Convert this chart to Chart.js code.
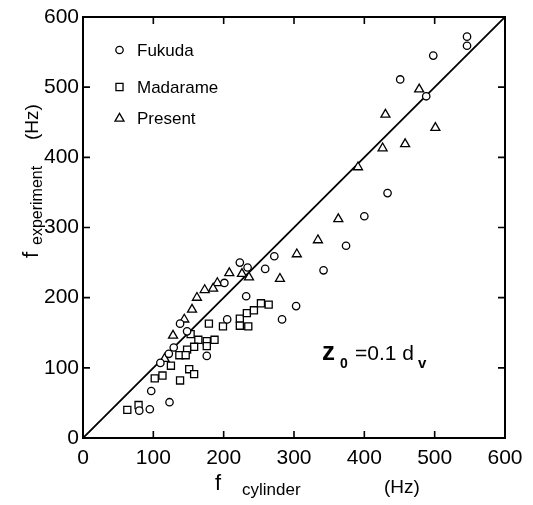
<!DOCTYPE html>
<html><head><meta charset="utf-8">
<script src="https://cdn.jsdelivr.net/npm/chart.js@4/dist/chart.umd.min.js"></script>
<style>html,body{margin:0;padding:0;background:#fff;} #wrap{width:533px;height:505px;}</style>
</head><body><div id="wrap"><canvas id="c" width="533" height="505"></canvas></div>
<script>
// ---- data ----
const fukudaX = [546,546,498,451,488,433,400,374,342,303,223,234,259,272,201,232,205,283,138,148,129,122,110,176,97,123,80,95];
const fukudaY = [572,559,545,511,487,349,316,274,239,188,250,243,241,259,221,202,169,169,163,152,129,120,107,117,67,51,39,41];
const madarameX = [179,199,223,223,235,233,243,253,264,153,164,176,176,187,158,148,137,146,125,113,102,151,158,138,63,79];
const madarameY = [163,159,170,160,159,178,182,192,190,148,140,138,131,140,130,126,118,118,103,89,85,98,91,82,40,47];
const presentX = [478,430,501,426,458,391,363,334,304,280,208,226,236,191,185,173,162,155,144,128,116];
const presentY = [497,461,442,413,419,386,312,282,262,227,235,234,229,221,213,211,200,183,169,146,113];
const lineX = [0,600];
const lineY = [0,600];
const tickValues = [0,100,200,300,400,500,600];
const seriesNames = ['Fukuda','Madarame','Present'];

const FONT = '"Liberation Sans", Arial, sans-serif';
const pts = (xs, ys) => xs.map((v,i)=>({x:v, y:ys[i]}));
const mk = (label, xs, ys, style, r) => ({
  label, data: pts(xs, ys), pointStyle: style, pointRadius: r, pointHoverRadius: r,
  borderColor:'#000', backgroundColor:'#fff', pointBorderWidth:1.3, showLine:false
});

const decor = {
  id:'decor',
  afterDraw(chart){
    const {ctx, chartArea:a, scales:{x, y}} = chart;
    ctx.save();
    ctx.strokeStyle = '#000'; ctx.fillStyle = '#000';
    ctx.lineWidth = 2;
    ctx.strokeRect(a.left, a.top, a.right-a.left, a.bottom-a.top);
    ctx.lineWidth = 1.6;
    const tl = 7;
    tickValues.forEach(v=>{
      const px = x.getPixelForValue(v), py = y.getPixelForValue(v);
      ctx.beginPath();
      ctx.moveTo(px, a.bottom); ctx.lineTo(px, a.bottom - tl);
      ctx.moveTo(px, a.top); ctx.lineTo(px, a.top + tl);
      ctx.moveTo(a.left, py); ctx.lineTo(a.left + tl, py);
      ctx.moveTo(a.right, py); ctx.lineTo(a.right - tl, py);
      ctx.stroke();
    });
    // legend
    const ly = [50, 87, 118.5];
    chart.data.datasets.slice(0,3).forEach((ds,i)=>{
      ctx.lineWidth = 1.3; ctx.strokeStyle='#000'; ctx.fillStyle='#fff';
      Chart.helpers.drawPoint(ctx, {pointStyle: ds.pointStyle, radius: ds.pointRadius, borderWidth:1.3}, 119.5, ly[i]);
      ctx.fillStyle = '#000';
      ctx.font = '17px ' + FONT; ctx.textBaseline = 'middle'; ctx.textAlign='left';
      ctx.fillText(seriesNames[i], 137, ly[i]+1);
    });
    // x title
    ctx.textBaseline = 'alphabetic'; ctx.textAlign='left'; ctx.fillStyle='#000';
    ctx.font = '22px ' + FONT; ctx.fillText('f', 215, 490);
    ctx.font = '17px ' + FONT; ctx.fillText('cylinder', 242, 495);
    ctx.font = '19px ' + FONT; ctx.fillText('(Hz)', 384, 493);
    // y title rotated
    ctx.save();
    ctx.translate(38, 258); ctx.rotate(-Math.PI/2);
    ctx.font = '22px ' + FONT; ctx.fillText('f', 0, 0);
    ctx.font = '16px ' + FONT; ctx.fillText('experiment', 13, 4);
    ctx.font = '19px ' + FONT; ctx.fillText('(Hz)', 118, 0);
    ctx.restore();
    // annotation z0 = 0.1 dv
    ctx.font = 'bold 26px ' + FONT; ctx.fillText('z', 322, 360);
    ctx.font = 'bold 14px ' + FONT; ctx.fillText('0', 340, 368);
    ctx.font = '21px ' + FONT; ctx.fillText('=0.1 d', 355, 360);
    ctx.font = 'bold 15px ' + FONT; ctx.fillText('v', 418, 368);
    ctx.restore();
  }
};

new Chart(document.getElementById('c'), {
  type:'scatter',
  data:{ datasets:[
    mk(seriesNames[0], fukudaX, fukudaY, 'circle', 3.7),
    mk(seriesNames[1], madarameX, madarameY, 'rect', 5),
    mk(seriesNames[2], presentX, presentY, 'triangle', 5.2),
    { label:'y=x', type:'line', data: pts(lineX, lineY), borderColor:'#000', borderWidth:1.8, pointRadius:0, fill:false, order:5 }
  ]},
  options:{
    responsive:false, animation:false, devicePixelRatio:1,
    layout:{ padding:{left:0, top:17, right:28, bottom:0}, autoPadding:false },
    plugins:{ legend:{display:false}, tooltip:{enabled:false} },
    scales:{
      x:{ type:'linear', min:0, max:600,
        afterBuildTicks: s => { s.ticks = tickValues.map(v=>({value:v})); },
        afterFit: s => { s.height = 67; },
        grid:{display:false, drawTicks:false}, border:{display:false},
        ticks:{ padding:8, color:'#000', font:{family:FONT, size:21}, maxRotation:0 } },
      y:{ type:'linear', min:0, max:600,
        afterBuildTicks: s => { s.ticks = tickValues.map(v=>({value:v})); },
        afterFit: s => { s.width = 83; },
        grid:{display:false, drawTicks:false}, border:{display:false},
        ticks:{ padding:4, color:'#000', font:{family:FONT, size:21} } }
    }
  },
  plugins:[decor]
});
</script></body></html>
